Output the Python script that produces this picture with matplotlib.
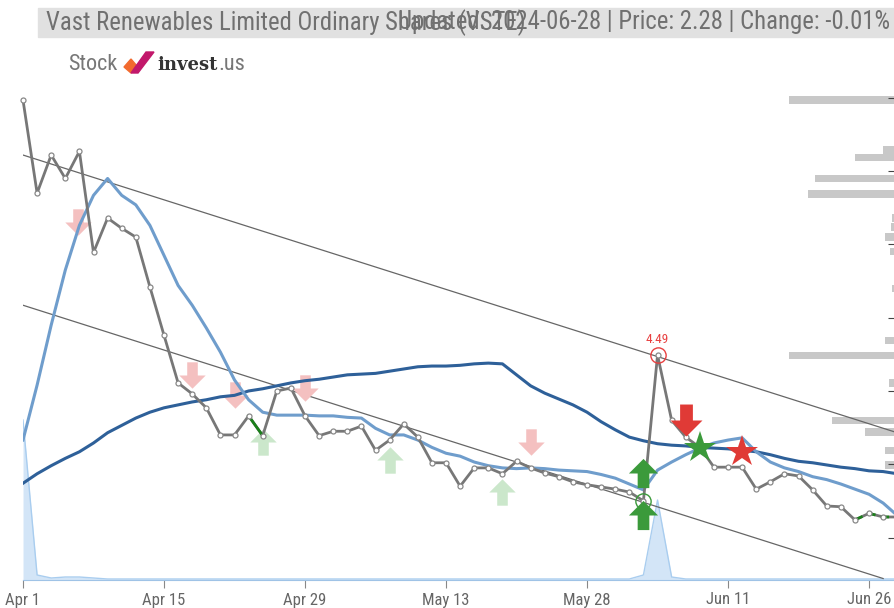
import matplotlib
matplotlib.use("Agg")
import matplotlib.pyplot as plt
from matplotlib.path import Path
from matplotlib.patches import Rectangle, Polygon
import numpy as np

# ---------------- data ----------------
tick_idx = [0, 10, 20, 30, 40, 50, 60]
tick_labels = ["Apr 1", "Apr 15", "Apr 29", "May 13", "May 28", "Jun 11", "Jun 26"]

price = [7.97, 6.70, 7.22, 6.90, 7.27, 5.89, 6.36, 6.22, 6.10, 5.42,
         4.76, 4.11, 3.96, 3.77, 3.40, 3.40, 3.66, 3.39, 4.00, 4.04,
         3.66, 3.39, 3.45, 3.45, 3.52, 3.19, 3.33, 3.55, 3.37, 3.02,
         3.02, 2.70, 2.95, 2.95, 2.87, 3.04, 2.95, 2.88, 2.83, 2.76,
         2.72, 2.69, 2.66, 2.62, 2.50, 4.49, 3.60, 3.37, 3.23, 2.96,
         2.96, 2.96, 2.66, 2.76, 2.87, 2.84, 2.65, 2.43, 2.42, 2.24,
         2.33, 2.28, 2.28]

ma_fast = [3.33, 4.08, 4.90, 5.65, 6.26, 6.67, 6.90, 6.67, 6.54, 6.26,
           5.85, 5.44, 5.17, 4.86, 4.53, 4.15, 3.88, 3.71, 3.67, 3.67,
           3.67, 3.66, 3.66, 3.64, 3.63, 3.49, 3.40, 3.40, 3.33, 3.23,
           3.15, 3.11, 3.03, 2.98, 2.95, 2.94, 2.95, 2.94, 2.92, 2.91,
           2.90, 2.86, 2.81, 2.73, 2.65, 2.92, 3.03, 3.13, 3.22, 3.29,
           3.33, 3.36, 3.17, 3.03, 2.95, 2.90, 2.83, 2.79, 2.73, 2.66,
           2.59, 2.47, 2.30]

ma_slow = [2.74, 2.87, 2.98, 3.08, 3.17, 3.29, 3.43, 3.53, 3.63, 3.71,
           3.77, 3.81, 3.85, 3.88, 3.92, 3.94, 4.00, 4.03, 4.07, 4.11,
           4.14, 4.16, 4.19, 4.22, 4.23, 4.24, 4.27, 4.30, 4.33, 4.34,
           4.34, 4.35, 4.37, 4.38, 4.37, 4.22, 4.07, 3.97, 3.89, 3.81,
           3.71, 3.58, 3.47, 3.37, 3.32, 3.28, 3.26, 3.25, 3.23, 3.22,
           3.21, 3.19, 3.17, 3.13, 3.08, 3.04, 3.02, 2.99, 2.96, 2.94,
           2.91, 2.90, 2.87]

volume = [1.60, 0.05, 0.02, 0.03, 0.03, 0.02, 0.01, 0.01, 0.01, 0.01,
          0.01, 0.01, 0.01, 0.01, 0.01, 0.01, 0.01, 0.01, 0.01, 0.01,
          0.01, 0.01, 0.01, 0.01, 0.01, 0.01, 0.01, 0.01, 0.01, 0.01,
          0.01, 0.01, 0.01, 0.01, 0.01, 0.01, 0.01, 0.01, 0.01, 0.01,
          0.01, 0.01, 0.01, 0.01, 0.05, 0.80, 0.03, 0.01, 0.01, 0.01,
          0.01, 0.01, 0.01, 0.01, 0.01, 0.01, 0.01, 0.01, 0.01, 0.01,
          0.01, 0.01, 0.01]

# trend channel (start / end index and price)
upper_trend = ([0, 62], [7.22, 3.43])
lower_trend = ([0, 61], [5.17, 1.44])

# volume by price (right side profile)
prof_price = [7.97, 7.29, 7.19, 6.90, 6.69, 6.36, 6.24, 6.10, 5.90, 5.40,
              4.69, 4.48, 4.11, 3.60, 3.44, 3.19, 2.99]
prof_vol = [106, 12, 40, 80, 87, 3, 4, 10, 5, 3, 10, 106, 6, 63, 30, 10, 10]

# signals (index, price)
sell_weak = [(3.9, 6.30), (12.0, 4.22), (15.0, 3.94), (20.0, 4.04), (36.0, 3.30)]
buy_weak = [(17.0, 3.30), (26.0, 3.06), (34.0, 2.62)]
buy_strong = [(44, 2.88), (44, 2.31)]
sell_strong = [(47, 3.60)]
star_buy = [(48, 3.22)]
star_sell = [(51, 3.17)]
peak = (45, 4.49)
trough = (44, 2.50)

# ---------------- figure ----------------
W, H = 895, 608
fig = plt.figure(figsize=(W / 100, H / 100), dpi=100)
rect = [23 / W, 28 / H, 872 / W, 540 / H]
XMAX = 61.84
YLIM = (1.42, 8.79)

font = ["Roboto Condensed", "DejaVu Sans"]

# volume profile
axp = fig.add_axes(rect)
axp.barh(prof_price, prof_vol, height=0.1, color="#c8c8c8", edgecolor="none")
axp.set_xlim(872, 0)
axp.set_ylim(*YLIM)
axp.axis("off")

# volume
axv = fig.add_axes(rect)
x = np.arange(len(volume))
axv.fill_between(x, volume, 0, color="#cfe3f7", alpha=0.9, linewidth=0)
axv.plot(x, volume, color="#a9cdef", lw=1)
axv.set_xlim(0, XMAX)
axv.set_ylim(0, 5.4)
axv.axis("off")

# main
ax = fig.add_axes(rect)
ax.patch.set_visible(False)
ax.set_xlim(0, XMAX)
ax.set_ylim(*YLIM)

ax.plot(*upper_trend, color="#666666", lw=0.9, zorder=2)
ax.plot(*lower_trend, color="#666666", lw=0.9, zorder=2)
ax.plot(x, ma_slow, color="#2e6099", lw=2.2, zorder=3)
ax.plot(x, ma_fast, color="#6f9dcc", lw=2.2, zorder=3)

ax.plot(x, price, color="#777777", lw=2, zorder=4, clip_on=False)
ax.plot(x[16:18], price[16:18], color="#1a7f1a", lw=2, zorder=4)
ax.plot(x[59:], price[59:], color="#1a7f1a", lw=2, ls=(0, (3, 2)), zorder=4, clip_on=False)
ax.plot(x, price, ls="none", marker="o", ms=3.6, mfc="white", mec="#888888",
        mew=0.9, zorder=5, clip_on=False)

# arrow markers
down_arrow = Path([(-0.2, 0.5), (0.2, 0.5), (0.2, 0.0), (0.5, 0.0), (0.0, -0.5),
                   (-0.5, 0.0), (-0.2, 0.0), (-0.2, 0.5)], closed=True)
up_arrow = Path([(-0.2, -0.5), (0.2, -0.5), (0.2, 0.0), (0.5, 0.0), (0.0, 0.5),
                 (-0.5, 0.0), (-0.2, 0.0), (-0.2, -0.5)], closed=True)

for xi, yi in sell_weak:
    ax.plot(xi, yi, marker=down_arrow, ms=19, color="#f4c0c0", mew=0, zorder=2)
for xi, yi in buy_weak:
    ax.plot(xi, yi, marker=up_arrow, ms=19, color="#cbe7cb", mew=0, zorder=2)
for xi, yi in buy_strong:
    ax.plot(xi, yi, marker=up_arrow, ms=21, color="#3b9a3b", mew=0, zorder=6)
for xi, yi in sell_strong:
    ax.plot(xi, yi, marker=down_arrow, ms=23, color="#e03a36", mew=0, zorder=6)
for xi, yi in star_buy:
    ax.plot(xi, yi, marker="*", ms=24, color="#3b9a3b", mew=0, zorder=6)
for xi, yi in star_sell:
    ax.plot(xi, yi, marker="*", ms=24, color="#e03a36", mew=0, zorder=6)

ax.plot(*peak, marker="o", ms=11, mfc="none", mec="#e84040", mew=1, zorder=6)
ax.text(peak[0], peak[1] + 0.12, f"{peak[1]:.2f}", color="#e84040", fontsize=9.5,
        ha="center", va="bottom", family=font, zorder=6)
ax.plot(*trough, marker="o", ms=11, mfc="none", mec="#3b9a3b", mew=1, zorder=6)

# axes styling
for s in ["left", "top", "right"]:
    ax.spines[s].set_visible(False)
ax.spines["bottom"].set_color("#9fc3e6")
ax.set_xticks(tick_idx)
ax.set_xticklabels(tick_labels, family=font, fontsize=12, color="#666666")
ax.tick_params(axis="x", length=6, color="#888888", pad=3)
ax.yaxis.tick_right()
ax.set_yticks([2, 3, 4, 5, 6, 7, 8])
ax.set_yticklabels([])
ax.tick_params(axis="y", direction="in", length=5, color="#444444")

# header band
fig.patches.append(Rectangle((38 / W, 1 - 37 / H), 857 / W, 29 / H,
                             transform=fig.transFigure, color="#e1e1e1", zorder=0))
fig.text(46 / W, 1 - 22.5 / H, "Vast Renewables Limited Ordinary Shares (VSTE)",
         family=font, fontsize=17.8, color="#707070", ha="left", va="center")
fig.text(890 / W, 1 - 22.5 / H, "Updated: 2024-06-28 | Price: 2.28 | Change: -0.01%",
         family=font, fontsize=17.8, color="#707070", ha="right", va="center")

# logo
fig.text(68 / W, 1 - 65 / H, "Stock", family=font, fontsize=16, color="#777777",
         ha="left", va="center")
fig.patches.append(Polygon([(124 / W, 1 - 67 / H), (131 / W, 1 - 59 / H), (137 / W, 1 - 66 / H),
                            (131 / W, 1 - 73 / H)], closed=True,
                           transform=fig.transFigure, color="#f26a2e"))
fig.patches.append(Polygon([(131 / W, 1 - 73 / H), (146 / W, 1 - 52 / H), (154 / W, 1 - 52 / H),
                            (138 / W, 1 - 73 / H)], closed=True,
                           transform=fig.transFigure, color="#c2186b"))
fig.text(157 / W, 1 - 65 / H, "invest", family="DejaVu Serif", fontsize=13,
         fontweight="bold", color="#333333", ha="left", va="center")
fig.text(218 / W, 1 - 65 / H, ".us", family=font, fontsize=16, color="#777777",
         ha="left", va="center")

fig.savefig("out.png", dpi=100)
